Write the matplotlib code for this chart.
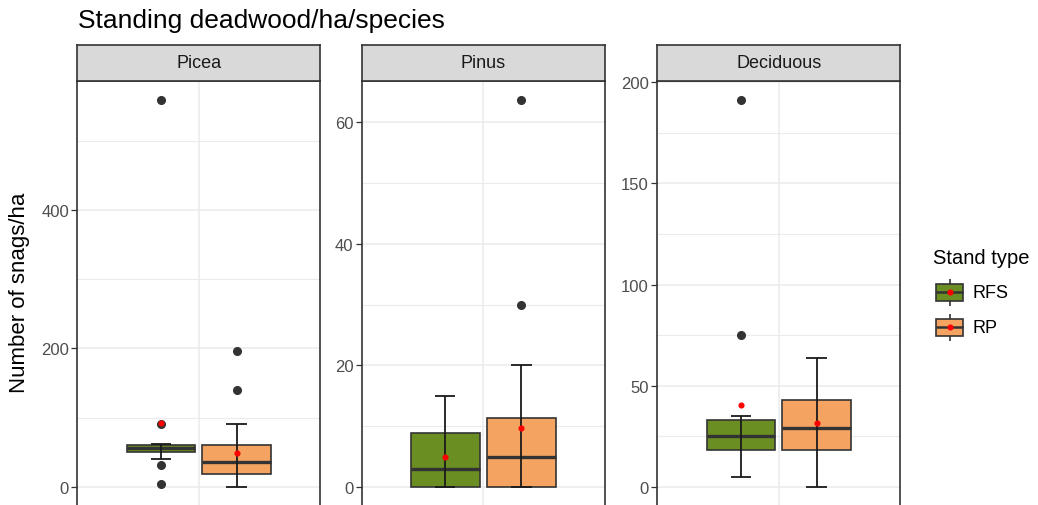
import numpy as np
import matplotlib.pyplot as plt
from matplotlib.patches import Rectangle
from matplotlib.ticker import MultipleLocator

plt.rcParams['font.family'] = ['Liberation Sans', 'DejaVu Sans']

# Daten
species = ["Picea", "Pinus", "Deciduous"]
stand_types = ["RFS", "RP"]
box_colors = ["#6B8E23", "#F4A460"]

q1 = [[50, 18], [0, 0], [18.3, 18.3]]
medians = [[56, 35.5], [3, 5], [25, 29]]
q3 = [[60.5, 60], [8.8, 11.3], [33, 43]]
whisk_lo = [[41, 0], [0, 0], [5, 0]]
whisk_hi = [[62, 91], [15, 20], [35, 63.5]]
means = [[93, 48.5], [5, 9.7], [40.7, 31.4]]
outliers = [[[558, 91, 32, 4], [196, 140]],
            [[], [30, 63.6]],
            [[191, 75], []]]
y_steps = [200, 20, 50]

W, H = 1038, 506
fig = plt.figure(figsize=(W / 100, H / 100), dpi=100)

panel_x = [(77.3, 320), (361.7, 605), (657.3, 900)]
top_px, bot_px = 82, 507.3
strip_h = 36
edge = "#333333"

dodge = np.array([-0.1875, 0.1875])
for i, sp in enumerate(species):
    x0, x1 = panel_x[i]
    ax = fig.add_axes([x0 / W, 1 - bot_px / H, (x1 - x0) / W, (bot_px - top_px) / H])

    stats = []
    for j in range(2):
        stats.append(dict(med=medians[i][j], q1=q1[i][j], q3=q3[i][j],
                          whislo=whisk_lo[i][j], whishi=whisk_hi[i][j],
                          fliers=outliers[i][j], mean=means[i][j]))
    pos = 1 + dodge
    bp = ax.bxp(stats, positions=pos, widths=0.3375, patch_artist=True,
                showcaps=False, showmeans=True,
                boxprops=dict(edgecolor=edge, linewidth=1.2),
                medianprops=dict(color=edge, linewidth=2.4, solid_capstyle='butt'),
                whiskerprops=dict(linewidth=0),
                flierprops=dict(marker='o', markerfacecolor=edge, markeredgecolor=edge,
                                markersize=5.5),
                meanprops=dict(marker='o', markerfacecolor='red', markeredgecolor='red',
                               markersize=3.4),
                zorder=3)
    for patch, c in zip(bp['boxes'], box_colors):
        patch.set_facecolor(c)
    for m in bp['means']:
        m.set_zorder(6)
    for f in bp['fliers']:
        f.set_zorder(5)

    # Fehlerbalken (Whisker) über den Boxen
    ax.vlines(pos, [s['whislo'] for s in stats], [s['whishi'] for s in stats],
              color='#1A1A1A', linewidth=1.3, zorder=4)
    for p, s in zip(pos, stats):
        ax.hlines([s['whislo'], s['whishi']], p - 0.05, p + 0.05,
                  color='#1A1A1A', linewidth=1.3, zorder=4)

    allv = [v for s in stats for v in [s['whislo'], s['whishi'], s['mean']] + list(s['fliers'])]
    lo, hi = min(allv), max(allv)
    pad = 0.05 * (hi - lo)
    ax.set_ylim(lo - pad, hi + pad)
    ax.set_xlim(0.4, 1.6)

    ax.yaxis.set_major_locator(MultipleLocator(y_steps[i]))
    ax.yaxis.set_minor_locator(MultipleLocator(y_steps[i] / 2))
    ax.set_xticks([1])
    ax.grid(which='major', color='#EBEBEB', linewidth=1.1, zorder=0)
    ax.grid(which='minor', axis='y', color='#EBEBEB', linewidth=0.8, zorder=0)
    ax.set_axisbelow(True)
    ax.tick_params(axis='x', length=0, labelbottom=False)
    ax.tick_params(axis='y', which='major', colors=edge, labelcolor='#4D4D4D',
                   labelsize=12, length=4, width=0.9, pad=2)
    ax.tick_params(axis='y', which='minor', length=0)
    for s in ax.spines.values():
        s.set_color(edge)
        s.set_linewidth(1.2)

    # Streifen mit Artname
    sax = fig.add_axes([x0 / W, 1 - top_px / H, (x1 - x0) / W, strip_h / H])
    sax.set_facecolor('#D9D9D9')
    sax.set_xticks([])
    sax.set_yticks([])
    for s in sax.spines.values():
        s.set_color(edge)
        s.set_linewidth(1.2)
    sax.text(0.5, 0.5, sp, ha='center', va='center', fontsize=13, color='#1A1A1A',
             transform=sax.transAxes)

fig.text(78 / W, 1 - 28 / H, "Standing deadwood/ha/species", fontsize=19,
         ha='left', va='baseline')
fig.text(20 / W, 1 - 293 / H, "Number of snags/ha", fontsize=16, rotation=90,
         ha='center', va='center')

# Legende
lg = fig.add_axes([0, 0, 1, 1], facecolor='none')
lg.set_xlim(0, W)
lg.set_ylim(H, 0)
lg.axis('off')
lg.text(933, 258, "Stand type", fontsize=14.5, ha='left', va='center')
for k, (lab, c) in enumerate(zip(stand_types, box_colors)):
    yc = 293.3 + 35 * k
    lg.vlines(949.5, yc - 13.5, yc + 13.5, color=edge, linewidth=1.2)
    lg.add_patch(Rectangle((936, yc - 8.5), 27, 17, facecolor=c, edgecolor=edge,
                           linewidth=1.2, zorder=3))
    lg.hlines(yc, 936, 963, color=edge, linewidth=1.8, zorder=4)
    lg.plot([949.5], [yc], 'o', color='red', markersize=3.4, zorder=5)
    lg.text(973, yc, lab, fontsize=13, ha='left', va='center')

fig.savefig("out.png", dpi=100)
